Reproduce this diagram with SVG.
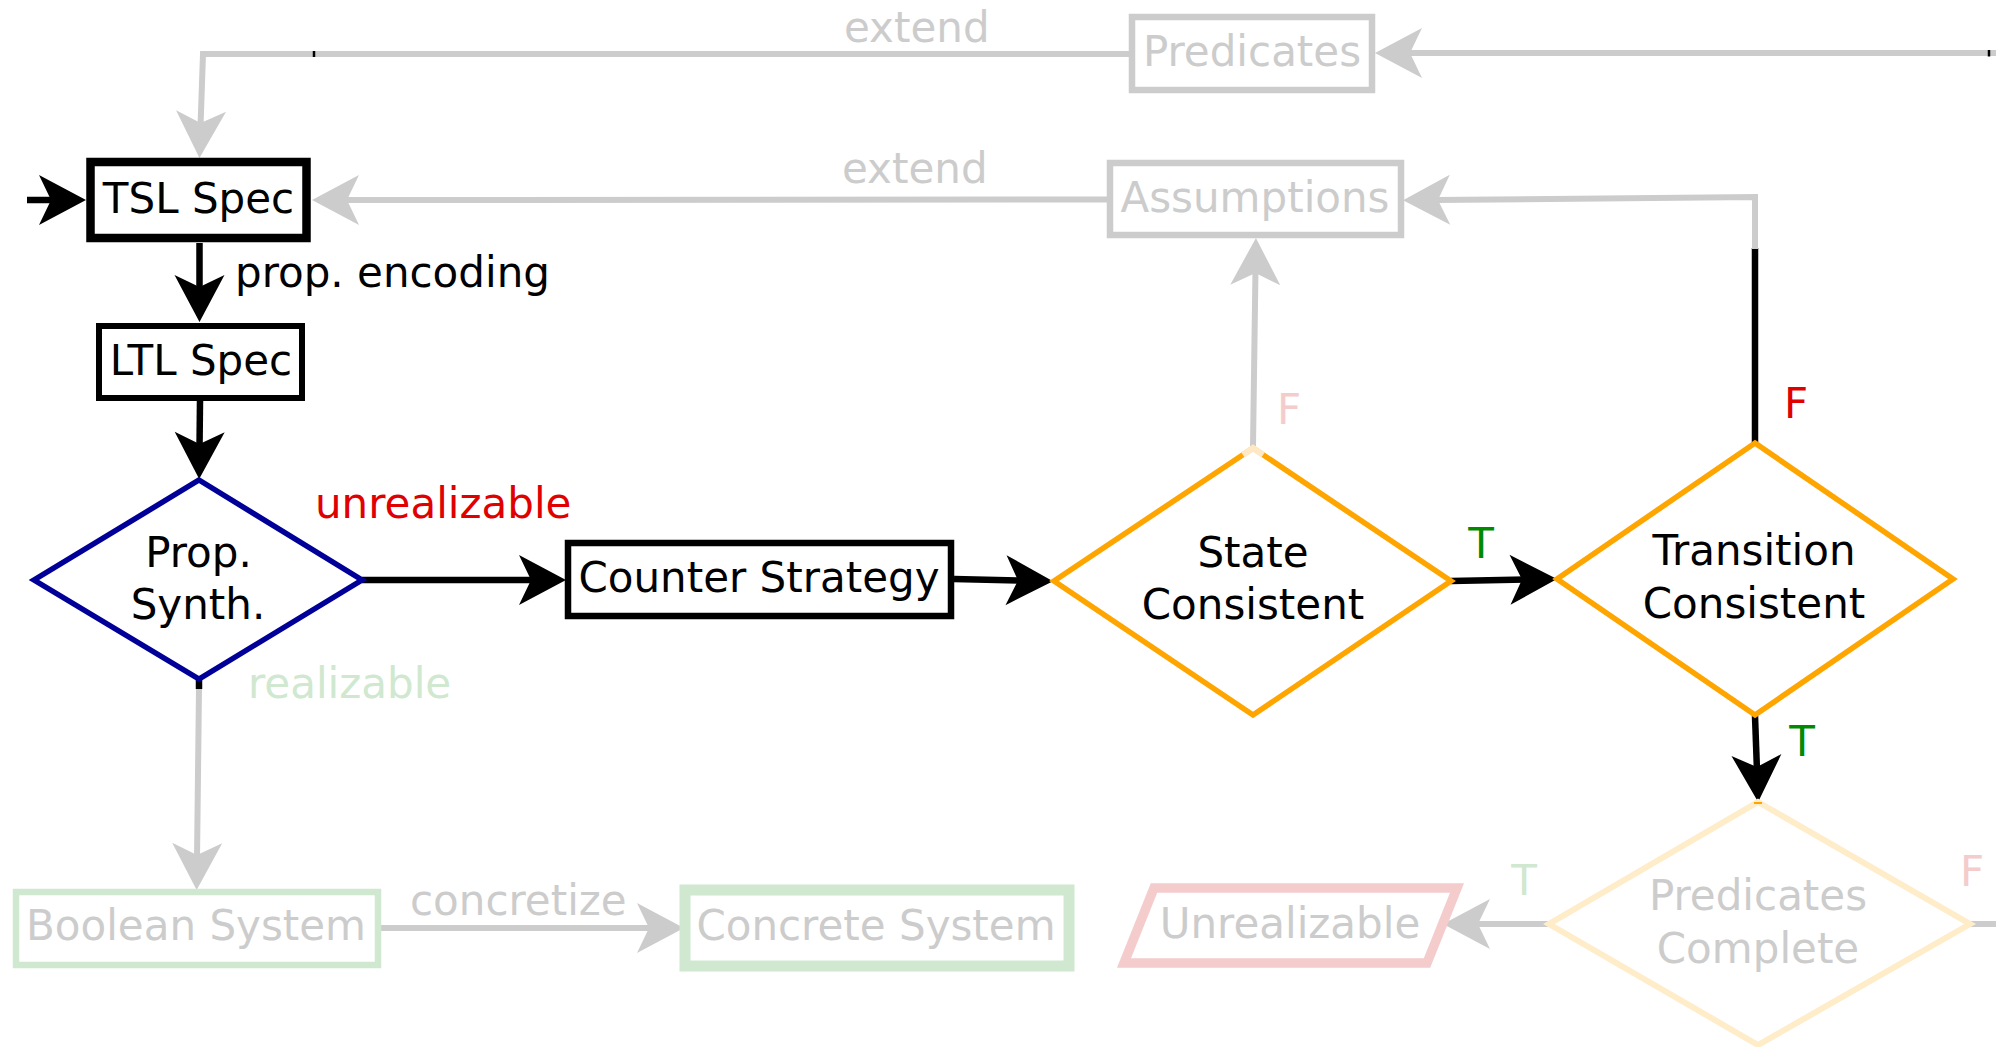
<svg xmlns="http://www.w3.org/2000/svg" width="1996" height="1047" viewBox="0 0 1996 1047">
  <style>
    text { font-family: "DejaVu Sans", "Liberation Sans", sans-serif; font-size: 42px; }
    .mid { text-anchor: middle; }
    .dark { fill: #000000; }
    .faint { fill: #cccccc; }
    .red { fill: #e00000; }
    .green { fill: #008a00; }
    .pink { fill: #f4cccc; }
    .mint { fill: #cfe8cf; }
    .node { fill: #ffffff; }
    .edge { fill: none; stroke-linejoin: miter; }
    .blk { stroke: #000000; stroke-width: 6.5; }
    .gry { stroke: #cccccc; stroke-width: 6; }
    .tick { stroke: #000000; stroke-width: 2.5; }
  </style>
  <defs>
    <!-- swept-back arrowheads; the reference point sits where the line stops -->
    <marker id="headBlack" markerUnits="userSpaceOnUse" orient="auto" refX="0" refY="0" markerWidth="60" markerHeight="60" overflow="visible">
      <path d="M31,0 L-16,-25 L-4,0 L-16,25 Z" fill="#000000"/>
    </marker>
    <marker id="headGrey" markerUnits="userSpaceOnUse" orient="auto" refX="0" refY="0" markerWidth="60" markerHeight="60" overflow="visible">
      <path d="M31,0 L-16,-25 L-4,0 L-16,25 Z" fill="#cccccc"/>
    </marker>
  </defs>

  <rect width="1996" height="1047" fill="#ffffff"/>

  <!-- connectors -->
  <g id="connectors">
    <!-- entry -->
    <path class="edge blk" d="M27,200 L55,200" marker-end="url(#headBlack)"/>
    <!-- Predicates -> TSL Spec (extend) -->
    <path class="edge gry" d="M1130,54 L203,54 L200.5,127" marker-end="url(#headGrey)"/>
    <line class="tick" x1="314" y1="51" x2="314" y2="57"/>
    <text x="844" y="42" class="faint">extend</text>
    <!-- Assumptions -> TSL Spec (extend) -->
    <path class="edge gry" d="M1108,199.5 L343,200" marker-end="url(#headGrey)"/>
    <text x="842" y="183" class="faint">extend</text>
    <!-- TSL Spec -> LTL Spec -->
    <path class="edge blk" d="M199.5,243 L199.5,291" marker-end="url(#headBlack)"/>
    <text x="235" y="287" class="dark">prop. encoding</text>
    <!-- LTL Spec -> Prop. Synth. -->
    <path class="edge blk" d="M200,401 L199.5,448" marker-end="url(#headBlack)"/>
    <!-- Prop. Synth. -> Counter Strategy -->
    <path class="edge blk" d="M362,580 L535,580" marker-end="url(#headBlack)"/>
    <text x="315" y="518" class="red">unrealizable</text>
    <!-- Prop. Synth. -> Boolean System -->
    <path class="edge gry" d="M199,688 L197,859" marker-end="url(#headGrey)"/>
    <line x1="199" y1="680" x2="199" y2="689" stroke="#000000" stroke-width="6.5"/>
    <text x="248" y="698" class="mint">realizable</text>
    <!-- Counter Strategy -> State Consistent -->
    <path class="edge blk" d="M954,579 L1022,580.5" marker-end="url(#headBlack)"/>
    <!-- State Consistent -> Transition Consistent -->
    <path class="edge blk" d="M1451,581 L1526,579.5" marker-end="url(#headBlack)"/>
    <text x="1481" y="558" class="green mid">T</text>
    <!-- State Consistent -> Assumptions -->
    <path class="edge gry" d="M1253,446 L1255.5,269" marker-end="url(#headGrey)"/>
    <text x="1277" y="424" class="pink">F</text>
    <!-- Transition Consistent -> Assumptions -->
    <path class="edge blk" d="M1755,443 L1755,248"/>
    <path class="edge gry" d="M1755,249 L1755,197 L1434,200" marker-end="url(#headGrey)"/>
    <text x="1784" y="418" class="red">F</text>
    <!-- Transition Consistent -> Predicates Complete -->
    <path class="edge blk" d="M1755,716 L1757,771" marker-end="url(#headBlack)"/>
    <text x="1802" y="756" class="green mid">T</text>
    <!-- loop back into Predicates -->
    <path class="edge gry" d="M1996,53 L1406,53" marker-end="url(#headGrey)"/>
    <line class="tick" x1="1989" y1="50" x2="1989" y2="56.5"/>
    <!-- Boolean System -> Concrete System -->
    <path class="edge gry" d="M381,928 L653,928" marker-end="url(#headGrey)"/>
    <text x="410" y="915" class="faint">concretize</text>
    <!-- Predicates Complete -> Unrealizable -->
    <path class="edge gry" d="M1549,924 L1474,924" marker-end="url(#headGrey)"/>
    <text x="1524" y="895" class="mint mid">T</text>
    <!-- Predicates Complete -> onward -->
    <path class="edge gry" d="M1971,924 L1996,924"/>
    <text x="1960" y="886" class="pink">F</text>
  </g>

  <!-- nodes -->
  <g id="tsl-spec">
    <rect class="node" x="90.5" y="162" width="216" height="76" stroke="#000000" stroke-width="8.5"/>
    <text x="198.5" y="213" class="dark mid">TSL Spec</text>
  </g>
  <g id="ltl-spec">
    <rect class="node" x="99" y="326" width="203" height="72" stroke="#000000" stroke-width="6"/>
    <text x="201" y="375" class="dark mid">LTL Spec</text>
  </g>
  <g id="prop-synth">
    <polygon class="node" points="199,480 362,580 199,679 34,580" stroke="#000099" stroke-width="5.5"/>
    <text x="198.5" y="567" class="dark mid">Prop.</text>
    <text x="198" y="619" class="dark mid">Synth.</text>
  </g>
  <g id="counter-strategy">
    <rect class="node" x="568" y="543" width="383" height="73" stroke="#000000" stroke-width="6.5"/>
    <text x="759" y="592" class="dark mid">Counter Strategy</text>
  </g>
  <g id="state-consistent">
    <polygon class="node" points="1253,448 1451,581 1253,715 1054,581" stroke="#ffa500" stroke-width="5.5"/>
    <polyline points="1243,455 1253,448 1263,455" fill="none" stroke="#ffe9c4" stroke-width="6"/>
    <text x="1253" y="567" class="dark mid">State</text>
    <text x="1253" y="619" class="dark mid">Consistent</text>
  </g>
  <g id="transition-consistent">
    <polygon class="node" points="1755,443 1953,579 1755,715 1557,579" stroke="#ffa500" stroke-width="5.5"/>
    <text x="1754" y="565" class="dark mid">Transition</text>
    <text x="1754" y="618" class="dark mid">Consistent</text>
  </g>
  <g id="assumptions">
    <rect class="node" x="1110" y="163" width="291" height="72" stroke="#cccccc" stroke-width="6.5"/>
    <text x="1255" y="212" class="faint mid">Assumptions</text>
  </g>
  <g id="predicates">
    <rect class="node" x="1132" y="17" width="240" height="73" stroke="#cccccc" stroke-width="6.5"/>
    <text x="1252" y="66" class="faint mid">Predicates</text>
  </g>
  <g id="boolean-system">
    <rect class="node" x="16" y="892" width="362" height="73" stroke="#cfe8cf" stroke-width="6.5"/>
    <text x="196" y="940" class="faint mid">Boolean System</text>
  </g>
  <g id="concrete-system">
    <rect class="node" x="685" y="890" width="384" height="76" stroke="#cfe8cf" stroke-width="11"/>
    <text x="876" y="940" class="faint mid">Concrete System</text>
  </g>
  <g id="unrealizable">
    <polygon class="node" points="1154,888 1457,888 1427,963 1124,963" stroke="#f4cccc" stroke-width="9.5"/>
    <text x="1290" y="938" class="faint mid">Unrealizable</text>
  </g>
  <g id="predicates-complete">
    <polygon class="node" points="1758,802 1970,924 1758,1045 1549,924" stroke="#ffecc8" stroke-width="6"/>
    <line x1="1754" y1="803" x2="1762" y2="803" stroke="#ffa500" stroke-width="2"/>
    <text x="1758" y="910" class="faint mid">Predicates</text>
    <text x="1758" y="963" class="faint mid">Complete</text>
  </g>
</svg>
